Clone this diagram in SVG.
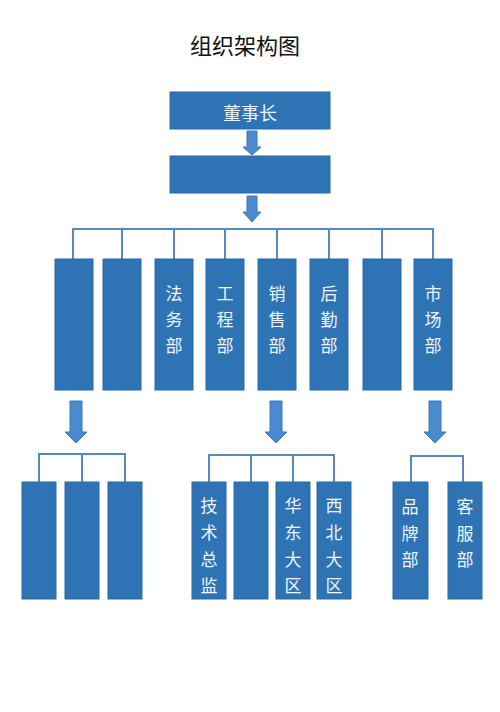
<svg xmlns="http://www.w3.org/2000/svg" width="500" height="712" viewBox="0 0 500 712">
<style>
.box{fill:#2e74b5;stroke:#2a6aa6;stroke-width:1}
.lbl{font-family:"Noto Sans CJK SC",sans-serif;font-size:17px;fill:#eef4fb;text-anchor:middle;dominant-baseline:central}
.ln{stroke:#5a88bd;stroke-width:2;fill:none}
.arr{fill:#4a8bd0;stroke:#3f78b5;stroke-width:1}
</style>
<rect width="500" height="712" fill="#fff"/>
<text x="245" y="44" font-family="Noto Sans CJK SC,sans-serif" font-size="22" fill="#111" text-anchor="middle" dominant-baseline="central">组织架构图</text>
<g id="connectors">
<polygon class="arr" points="247,131 257,131 257,147 261,147 252,155 243,147 247,147"/>
<polygon class="arr" points="247,196 257,196 257,212 261,212 252,222 243,212 247,212"/>
<path class="ln" d="M73,259V229H433V259M122,229V259M174,229V259M225,229V259M277,229V259M329,229V259M382,229V259"/>
<polygon class="arr" points="70,401 82,401 82,432 87,432 76,443 65,432 70,432"/>
<polygon class="arr" points="270,401 282,401 282,432 287,432 276,443 265,432 270,432"/>
<polygon class="arr" points="429,401 441,401 441,432 446,432 435,443 424,432 429,432"/>
<path class="ln" d="M39,482V454H125V482M82,454V482"/>
<path class="ln" d="M209,482V455H334V482M251,455V482M293,455V482"/>
<path class="ln" d="M411,482V456H463V482"/>
</g>
<g id="n-chair"><rect class="box" x="170" y="92" width="160" height="37"/><text class="lbl" x="250" y="112" font-size="18" style="font-size:18px">董事长</text></g>
<g id="n-second"><rect class="box" x="170" y="156" width="160" height="37"/></g>
<g id="n-d1"><rect class="box" x="55" y="259" width="38" height="131"/></g>
<g id="n-d2"><rect class="box" x="103" y="259" width="38" height="131"/></g>
<g id="n-d3"><rect class="box" x="155" y="259" width="38" height="131"/><text class="lbl" x="174" y="292">法</text><text class="lbl" x="174" y="318">务</text><text class="lbl" x="174" y="344">部</text></g>
<g id="n-d4"><rect class="box" x="206" y="259" width="38" height="131"/><text class="lbl" x="225" y="292">工</text><text class="lbl" x="225" y="318">程</text><text class="lbl" x="225" y="344">部</text></g>
<g id="n-d5"><rect class="box" x="258" y="259" width="38" height="131"/><text class="lbl" x="277" y="292">销</text><text class="lbl" x="277" y="318">售</text><text class="lbl" x="277" y="344">部</text></g>
<g id="n-d6"><rect class="box" x="310" y="259" width="38" height="131"/><text class="lbl" x="329" y="292">后</text><text class="lbl" x="329" y="318">勤</text><text class="lbl" x="329" y="344">部</text></g>
<g id="n-d7"><rect class="box" x="363" y="259" width="38" height="131"/></g>
<g id="n-d8"><rect class="box" x="414" y="259" width="38" height="131"/><text class="lbl" x="433" y="292">市</text><text class="lbl" x="433" y="318">场</text><text class="lbl" x="433" y="344">部</text></g>
<g id="n-a1"><rect class="box" x="22" y="482" width="34" height="117"/></g>
<g id="n-a2"><rect class="box" x="65" y="482" width="34" height="117"/></g>
<g id="n-a3"><rect class="box" x="108" y="482" width="34" height="117"/></g>
<g id="n-b1"><rect class="box" x="192" y="482" width="34" height="117"/><text class="lbl" x="209" y="504">技</text><text class="lbl" x="209" y="531">术</text><text class="lbl" x="209" y="558">总</text><text class="lbl" x="209" y="584">监</text></g>
<g id="n-b2"><rect class="box" x="234" y="482" width="34" height="117"/></g>
<g id="n-b3"><rect class="box" x="276" y="482" width="34" height="117"/><text class="lbl" x="293" y="504">华</text><text class="lbl" x="293" y="531">东</text><text class="lbl" x="293" y="558">大</text><text class="lbl" x="293" y="584">区</text></g>
<g id="n-b4"><rect class="box" x="317" y="482" width="34" height="117"/><text class="lbl" x="334" y="504">西</text><text class="lbl" x="334" y="531">北</text><text class="lbl" x="334" y="558">大</text><text class="lbl" x="334" y="584">区</text></g>
<g id="n-c1"><rect class="box" x="393" y="482" width="35" height="117"/><text class="lbl" x="410" y="505">品</text><text class="lbl" x="410" y="532">牌</text><text class="lbl" x="410" y="558">部</text></g>
<g id="n-c2"><rect class="box" x="448" y="482" width="34" height="117"/><text class="lbl" x="465" y="505">客</text><text class="lbl" x="465" y="532">服</text><text class="lbl" x="465" y="558">部</text></g>
</svg>
